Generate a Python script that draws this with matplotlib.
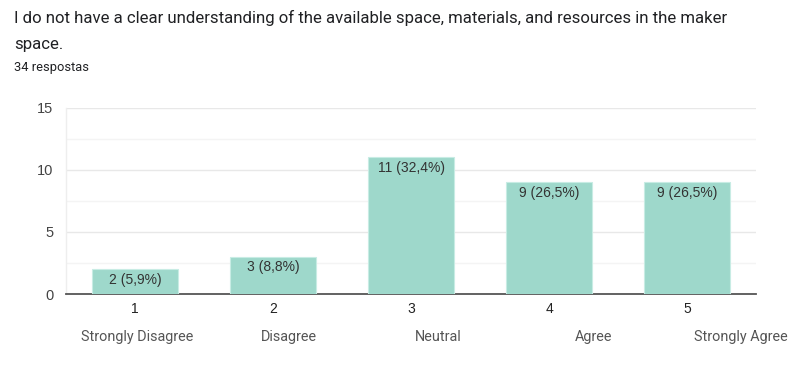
import matplotlib
matplotlib.use("Agg")
import matplotlib.pyplot as plt
from matplotlib.ticker import MultipleLocator

plt.rcParams['font.family'] = ['Roboto', 'DejaVu Sans']

title_lines = ["I do not have a clear understanding of the available space, materials, and resources in the maker",
               "space."]
subtitle = "34 respostas"
categories = [1, 2, 3, 4, 5]
counts = [2, 3, 11, 9, 9]
pct_labels = ["2 (5,9%)", "3 (8,8%)", "11 (32,4%)", "9 (26,5%)", "9 (26,5%)"]
scale_labels = ["Strongly Disagree", "Disagree", "Neutral", "Agree", "Strongly Agree"]
scale_label_x = [137, 289, 438, 594, 741]  # pixel positions

W, H = 800, 366
fig = plt.figure(figsize=(W / 100, H / 100), dpi=100)
ax = fig.add_axes([66 / W, 1 - 294 / H, (756 - 66) / W, (294 - 107.5) / H])

lab_font = ['Liberation Sans', 'DejaVu Sans']

ax.bar(categories, counts, width=0.62, color="#9ed8cb", edgecolor="#c8ece4", linewidth=0.8, zorder=3)
for x, v, lab in zip(categories, counts, pct_labels):
    ax.text(x, v - 0.3, lab, ha="center", va="top", fontsize=10, color="#333333",
            family=lab_font, zorder=4)

ax.set_xlim(0.5, 5.5)
ax.set_ylim(0, 15)
ax.yaxis.set_major_locator(MultipleLocator(5))
ax.yaxis.set_minor_locator(MultipleLocator(2.5))
ax.grid(axis="y", which="major", color="#e8e8e8", linewidth=1, zorder=0)
ax.grid(axis="y", which="minor", color="#f4f4f4", linewidth=1, zorder=0)
ax.set_axisbelow(True)
for s in ["top", "right"]:
    ax.spines[s].set_visible(False)
ax.spines["left"].set_color("#eeeeee")
ax.spines["left"].set_linewidth(1)
ax.spines["bottom"].set_color("#555555")
ax.spines["bottom"].set_linewidth(1.3)
ax.set_xticks(categories)
ax.set_xticklabels([str(c) for c in categories])
for t in ax.get_xticklabels() + ax.get_yticklabels():
    t.set_family(lab_font)
ax.tick_params(axis="x", length=0, pad=6, labelsize=10, labelcolor="#222222")
ax.tick_params(axis="y", which="both", length=0, pad=9, labelsize=10.5, labelcolor="#444444")

for i, line in enumerate(title_lines):
    fig.text(14 / W, 1 - (18 + 26 * i) / H, line, ha="left", va="center", fontsize=12.1,
             color="#202124")
fig.text(14 / W, 1 - 68 / H, subtitle, ha="left", va="center", fontsize=9.3, color="#202124")

for x, lab in zip(scale_label_x, scale_labels):
    fig.text(x / W, 1 - 337 / H, lab, ha="center", va="center", fontsize=10.4, color="#555555")

fig.savefig("out.png", dpi=100)
